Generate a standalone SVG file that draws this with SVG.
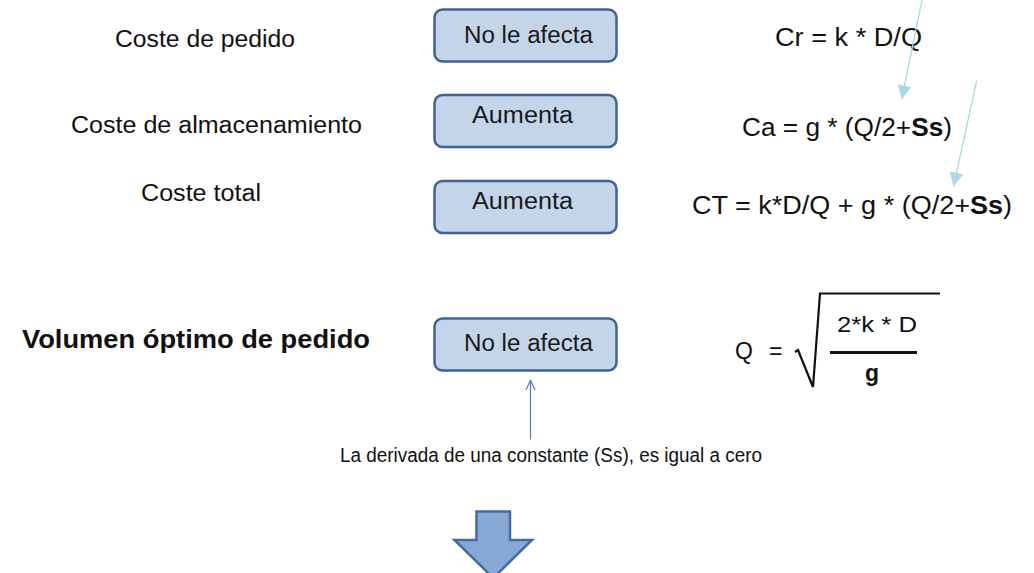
<svg xmlns="http://www.w3.org/2000/svg" width="1034" height="573" viewBox="0 0 1034 573">
<defs>
<style>
text{font-family:"Liberation Sans",Arial,sans-serif;fill:#111;}
.lbl{font-size:23.5px;}
.box{fill:#c4d5ea;stroke:#3f6292;stroke-width:2.5;}
.bt{font-size:23.5px;fill:#1a1a1a;}
.f{font-size:25.5px;}
.lb{stroke:#aad8e6;stroke-width:1.3;fill:none;}
</style>
<marker id="tri" viewBox="0 0 10 10" refX="10" refY="5" markerWidth="14" markerHeight="14" markerUnits="userSpaceOnUse" orient="auto">
<path d="M0,0 L10,5 L0,10 Z" fill="#aad8e6"/>
</marker>
<marker id="chev" viewBox="0 0 10 10" refX="10" refY="5" markerWidth="10" markerHeight="12" markerUnits="userSpaceOnUse" orient="auto">
<path d="M0,0.5 L10,5 L0,9.5" fill="none" stroke="#4f81bd" stroke-width="1.2"/>
</marker>
</defs>
<rect width="1034" height="573" fill="#fff"/>

<g id="labels">
<text class="lbl" x="115" y="47" textLength="180" lengthAdjust="spacingAndGlyphs">Coste de pedido</text>
<text class="lbl" x="71" y="133" textLength="291" lengthAdjust="spacingAndGlyphs">Coste de almacenamiento</text>
<text class="lbl" x="141" y="201" textLength="120" lengthAdjust="spacingAndGlyphs">Coste total</text>
<text x="22" y="348" font-size="26.5" font-weight="bold" textLength="348" lengthAdjust="spacingAndGlyphs">Volumen óptimo de pedido</text>
</g>

<g id="node-pedido">
<rect class="box" x="434.5" y="9.5" width="182" height="52" rx="8"/>
<text class="bt" x="464" y="43" textLength="129" lengthAdjust="spacingAndGlyphs">No le afecta</text>
</g>
<g id="node-almacenamiento">
<rect class="box" x="434.5" y="95" width="182" height="52" rx="8"/>
<text class="bt" x="472" y="123" textLength="101" lengthAdjust="spacingAndGlyphs">Aumenta</text>
</g>
<g id="node-total">
<rect class="box" x="434.5" y="181" width="182" height="52" rx="8"/>
<text class="bt" x="472" y="209" textLength="101" lengthAdjust="spacingAndGlyphs">Aumenta</text>
</g>
<g id="node-volumen">
<rect class="box" x="434.5" y="318.5" width="182" height="52" rx="8"/>
<text class="bt" x="464" y="351" textLength="129" lengthAdjust="spacingAndGlyphs">No le afecta</text>
</g>

<g id="formulas">
<text class="f" x="775" y="46" textLength="147" lengthAdjust="spacingAndGlyphs">Cr = k * D/Q</text>
<text class="f" x="742" y="136" textLength="210" lengthAdjust="spacingAndGlyphs">Ca = g * (Q/2+<tspan font-weight="bold">Ss</tspan>)</text>
<text class="f" x="692" y="214" textLength="320" lengthAdjust="spacingAndGlyphs">CT = k*D/Q + g * (Q/2+<tspan font-weight="bold">Ss</tspan>)</text>
</g>

<g id="formula-q">
<text x="735" y="359" font-size="23">Q</text>
<text x="769" y="359" font-size="23">=</text>
<path d="M795,352 L798,350 L813,387 L820,293.5 L940,293.5" fill="none" stroke="#111" stroke-width="2.2"/>
<text x="837" y="332" font-size="22.5" textLength="80" lengthAdjust="spacingAndGlyphs">2*k * D</text>
<line x1="830" y1="352.5" x2="917" y2="352.5" stroke="#111" stroke-width="3"/>
<text x="872" y="381" font-size="23" font-weight="bold" text-anchor="middle">g</text>
</g>

<g id="note">
<text x="340" y="462" font-size="19.5" textLength="422" lengthAdjust="spacingAndGlyphs">La derivada de una constante (Ss), es igual a cero</text>
</g>

<g id="connectors">
<line class="lb" x1="922" y1="0" x2="901.7" y2="99.3" marker-end="url(#tri)"/>
<line class="lb" x1="976.7" y1="80.7" x2="953.5" y2="186.5" marker-end="url(#tri)"/>
<line x1="530.5" y1="439.5" x2="530.5" y2="380" stroke="#4f81bd" stroke-width="1.2" marker-end="url(#chev)"/>
<path d="M476.5,511.5 L510,511.5 L510,540 L532,540 L493.25,578 L454.5,540 L476.5,540 Z" fill="#88a8d6" stroke="#456b9e" stroke-width="2.5" stroke-linejoin="miter"/>
</g>
</svg>
